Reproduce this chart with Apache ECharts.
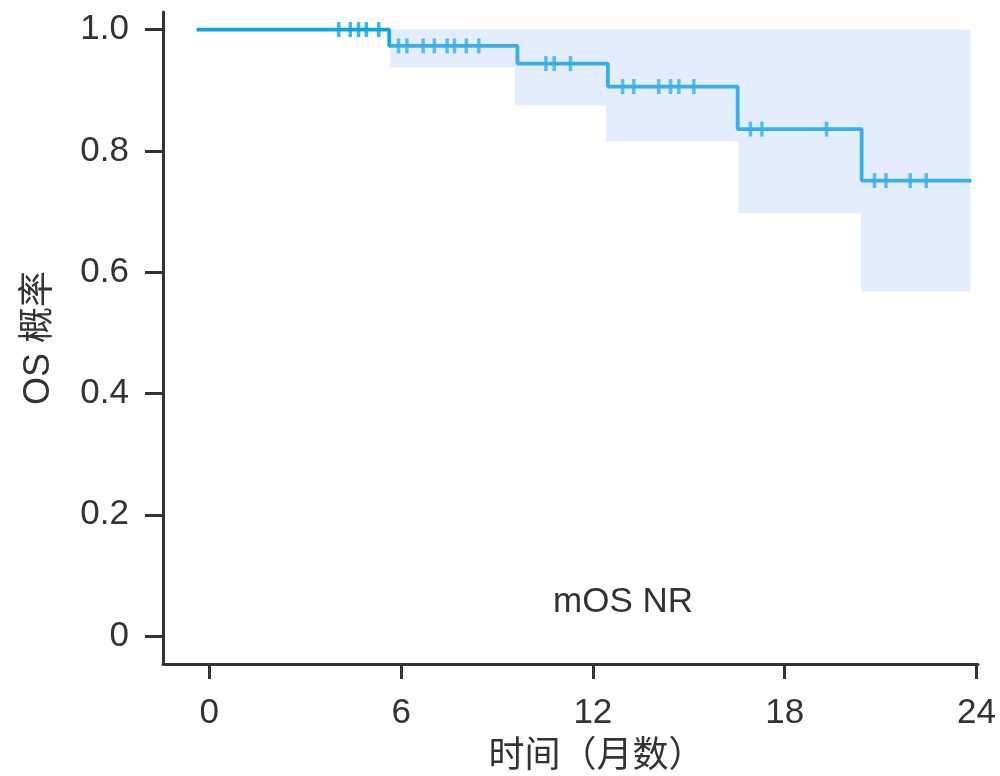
<!DOCTYPE html>
<html>
<head>
<meta charset="utf-8">
<script src="https://cdn.jsdelivr.net/npm/echarts@6/dist/echarts.min.js"></script>
<style>html,body{margin:0;padding:0;background:#fff}#c{width:1000px;height:776px}</style>
</head>
<body>
<div id="c"></div>
<script>
// Kaplan-Meier step curve (time in months, survival probability)
const kmTimes = [-0.4, 5.63, 9.64, 12.47, 16.53, 20.41, 23.84];
const kmSurv  = [1.0, 0.973, 0.944, 0.906, 0.836, 0.751, 0.751];

// 95% CI band: interval i spans ciTimes[i] .. ciTimes[i+1]
const ciTimes = [5.66, 9.56, 12.41, 16.56, 20.39, 23.81];
const ciLower = [0.938, 0.875, 0.8155, 0.697, 0.568];
const ciUpper = [1.0, 1.0, 1.0, 1.0, 1.0];

// censor marks
const censorTimes = [4.05, 4.41, 4.67, 4.91, 5.30,
  5.92, 6.18, 6.69, 7.04, 7.44, 7.67, 8.04, 8.43,
  10.53, 10.79, 11.30,
  12.93, 13.28, 14.06, 14.43, 14.69, 15.16,
  16.93, 17.29, 19.31,
  20.81, 21.17, 21.93, 22.43];
const censorSurv = [1.0, 1.0, 1.0, 1.0, 1.0,
  0.973, 0.973, 0.973, 0.973, 0.973, 0.973, 0.973, 0.973,
  0.944, 0.944, 0.944,
  0.906, 0.906, 0.906, 0.906, 0.906, 0.906,
  0.836, 0.836, 0.836,
  0.751, 0.751, 0.751, 0.751];

const xTicks = [0, 6, 12, 18, 24];
const yTicks = [0, 0.2, 0.4, 0.6, 0.8, 1.0];
const xName = '时间（月数）';
const yName = 'OS 概率';
const note = 'mOS NR';

const FONT = "'Liberation Sans', Arial, 'Noto Sans CJK SC', sans-serif";
const TXT = '#333333';
const LINE = '#0aa6e3';

const bandData = ciLower.map((lo, i) => [ciTimes[i], ciTimes[i + 1], lo, ciUpper[i]]);

const chart = echarts.init(document.getElementById('c'), null, {renderer: 'canvas'});
chart.setOption({
  animation: false,
  backgroundColor: '#ffffff',
  grid: {left: 163, right: 22, top: 12, bottom: 112, containLabel: false, outerBoundsMode: 'none'},
  xAxis: {
    type: 'value', min: -1.45, max: 24.05,
    name: xName, nameLocation: 'middle', nameGap: 75,
    nameTextStyle: {fontFamily: FONT, fontSize: 36, color: TXT, padding: [0, 0, 0, 52]},
    axisLine: {onZero: false, lineStyle: {color: '#333333', width: 3}},
    axisTick: {customValues: xTicks, length: 15, lineStyle: {color: '#333333', width: 3}},
    axisLabel: {customValues: xTicks, margin: 32, fontFamily: FONT, fontSize: 35, color: TXT},
    splitLine: {show: false}
  },
  yAxis: {
    type: 'value', min: -0.046, max: 1.029,
    name: yName, nameLocation: 'middle', nameGap: 106,
    nameTextStyle: {fontFamily: FONT, fontSize: 36, color: TXT},
    axisLine: {onZero: false, lineStyle: {color: '#333333', width: 3}},
    axisTick: {customValues: yTicks, length: 18, lineStyle: {color: '#333333', width: 3}},
    axisLabel: {customValues: yTicks, margin: 34, fontFamily: FONT, fontSize: 35, color: TXT,
      formatter: v => (v === 0 ? '0' : v.toFixed(1))},
    splitLine: {show: false}
  },
  graphic: [{
    type: 'text', x: 623, y: 602, z: 10,
    style: {text: note, fontFamily: FONT, fontSize: 35, fill: TXT, align: 'center', verticalAlign: 'middle'}
  }],
  series: [
    {
      type: 'line', step: 'end', z: 2, showSymbol: false, silent: true,
      data: kmTimes.map((t, i) => [t, kmSurv[i]]),
      lineStyle: {color: LINE, width: 3.8}
    },
    {
      type: 'scatter', z: 3, silent: true,
      symbol: 'rect', symbolSize: [3.5, 15],
      itemStyle: {color: LINE},
      data: censorTimes.map((t, i) => [t, censorSurv[i]])
    },
    {
      type: 'custom', z: 5, silent: true,
      data: bandData,
      encode: {x: [0, 1], y: [2, 3]},
      renderItem: function (params, api) {
        const p0 = api.coord([api.value(0), api.value(3)]);
        const p1 = api.coord([api.value(1), api.value(2)]);
        return {
          type: 'rect',
          shape: {x: p0[0], y: p0[1], width: p1[0] - p0[0], height: p1[1] - p0[1]},
          style: {fill: 'rgba(162,195,245,0.3)'}
        };
      }
    }
  ]
});
</script>
</body>
</html>
